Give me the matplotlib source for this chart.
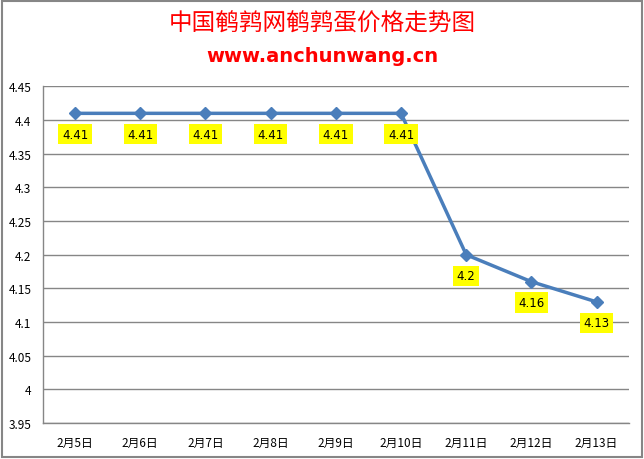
import matplotlib.pyplot as plt
import matplotlib.patches as patches

plt.rcParams['font.family'] = ['Noto Sans CJK SC', 'DejaVu Sans']

dates = ['2月5日', '2月6日', '2月7日', '2月8日', '2月9日', '2月10日', '2月11日', '2月12日', '2月13日']
prices = [4.41, 4.41, 4.41, 4.41, 4.41, 4.41, 4.2, 4.16, 4.13]
yticks = [3.95, 4, 4.05, 4.1, 4.15, 4.2, 4.25, 4.3, 4.35, 4.4, 4.45]
ytick_labels = ['3.95', '4', '4.05', '4.1', '4.15', '4.2', '4.25', '4.3', '4.35', '4.4', '4.45']

fig = plt.figure(figsize=(6.44, 4.6), dpi=100)
ax = fig.add_axes([0.066, 0.078, 0.911, 0.732])

# grey frame round the whole chart
fig.patches.append(patches.Rectangle((0.003, 0.004), 0.994, 0.992, transform=fig.transFigure,
                                     fill=False, edgecolor='#868686', linewidth=1.5))

x = list(range(len(dates)))
ax.plot(x, prices, color='#4a7ebb', linewidth=2.5, marker='D', markersize=6, zorder=3)

for xi, p in zip(x, prices):
    ax.annotate(f'{p:g}', (xi, p), xytext=(0, -15), textcoords='offset points',
                ha='center', va='center', fontsize=8.5, family=['DejaVu Sans'],
                bbox=dict(boxstyle='square,pad=0.3', facecolor='#ffff00', edgecolor='none'))

ax.set_xlim(-0.5, len(dates) - 0.5)
ax.set_ylim(3.95, 4.45)
ax.set_yticks(yticks)
ax.set_yticklabels(ytick_labels)
ax.set_xticks(x)
ax.set_xticklabels(dates)
ax.tick_params(axis='both', length=0, labelsize=8.5, colors='black')
ax.tick_params(axis='y', pad=8)
ax.tick_params(axis='x', pad=9)
ax.grid(axis='y', color='#868686', linewidth=1)
ax.set_axisbelow(True)
for side in ['top', 'right']:
    ax.spines[side].set_visible(False)
for side in ['left', 'bottom']:
    ax.spines[side].set_color('#868686')
    ax.spines[side].set_linewidth(1)

fig.text(0.5, 0.947, '中国鹌鹑网鹌鹑蛋价格走势图', ha='center', va='center',
         color='#ff0000', fontsize=17, family=['Noto Sans CJK SC'])
fig.text(0.5, 0.878, 'www.anchunwang.cn', ha='center', va='center',
         color='#ff0000', fontsize=14, fontweight='bold', family=['DejaVu Sans'])

fig.savefig('out.png', dpi=100)
